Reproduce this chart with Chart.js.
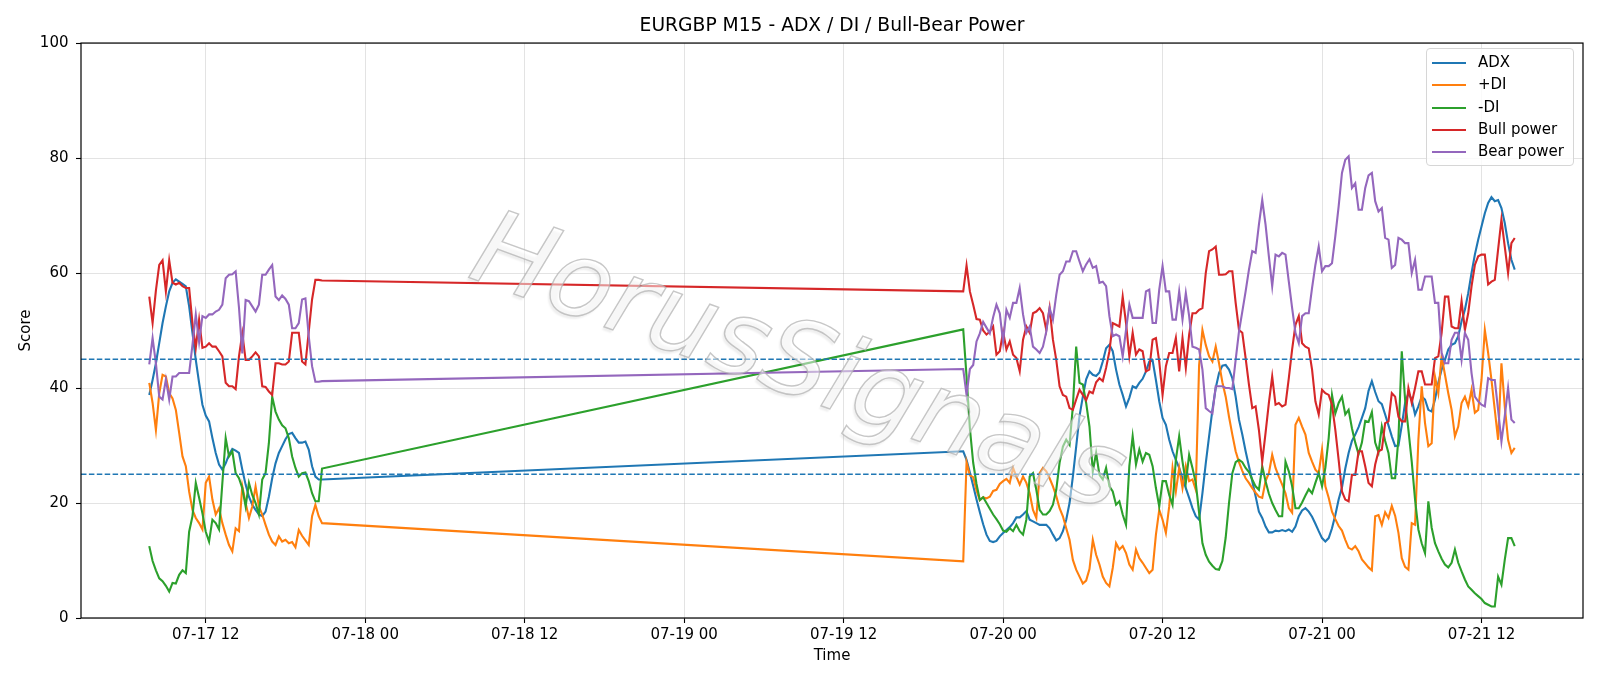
<!DOCTYPE html>
<html>
<head>
<meta charset="utf-8">
<title>EURGBP M15 - ADX / DI / Bull-Bear Power</title>
<script src="https://cdn.jsdelivr.net/npm/chart.js@4.4.0/dist/chart.umd.min.js"></script>
<style>
  html, body { margin: 0; padding: 0; background: #fff; }
  #wrap { position: relative; width: 1600px; height: 686px; }
  #legend {
    position: absolute; left: 1426px; top: 48px; width: 146px; height: 116px;
    border: 1px solid #d6d6d6; border-radius: 4px; background: rgba(255,255,255,0.8);
    font-family: 'DejaVu Sans', sans-serif; font-size: 15px; color: #000;
  }
  #legend .row { position: absolute; left: 0; width: 100%; height: 20px; }
  #legend .swatch { position: absolute; left: 5px; top: 9px; width: 34px; height: 2px; }
  #legend .lbl { position: absolute; left: 51px; top: 0px; line-height: 19px; white-space: nowrap; }
</style>
</head>
<body>
<div id="wrap">
  <canvas id="myChart" width="1600" height="686"></canvas>
  <div id="legend"></div>
</div>
<script>
// hours after 07-17 00:00, M15 bars
const session1Start = 7.75;   // 07-17 07:45
const session2Start = 69;     // 07-19 21:00

// friday session (07-17)
const adx1 = [38.8, 41.4, 44.3, 47.8, 51.3, 54.2, 56.8, 58.3, 58.9, 58.5,
  58.1, 57.7, 54.2, 49.6, 44.9, 40.9, 37.1, 35.2, 34.2, 31.3,
  28.7, 26.7, 25.8, 26.9, 28.4, 29.4, 29.1, 28.7, 25.8, 23.2,
  21.1, 19.7, 18.8, 18.0, 17.7, 18.5, 21.1, 24.3, 26.9, 28.7,
  29.9, 31.1, 32.0, 32.2, 31.3, 30.5, 30.5, 30.7, 29.3, 26.4,
  24.6, 24.1, 24.1];
const plusDi1 = [40.9, 37.4, 32.7, 39.1, 42.3, 42.0, 39.1, 38.2, 36.2, 32.2,
  28.1, 26.4, 22.0, 18.8, 17.4, 16.5, 15.4, 23.5, 24.6, 20.6,
  18.0, 19.1, 16.5, 14.5, 12.7, 11.6, 15.6, 15.1, 22.9, 20.0,
  17.4, 19.4, 22.9, 19.4, 18.0, 16.2, 14.5, 13.3, 12.7, 14.2,
  13.3, 13.6, 13.0, 13.2, 12.3, 15.3, 14.3, 13.5, 12.7, 17.7,
  19.7, 17.7, 16.5];
const minusDi1 = [12.5, 9.9, 8.3, 6.9, 6.4, 5.6, 4.6, 6.1, 6.0, 7.5,
  8.3, 7.8, 15.0, 17.7, 23.5, 20.9, 18.2, 15.0, 13.3, 17.1,
  16.5, 15.4, 23.5, 31.3, 28.1, 29.0, 25.2, 24.3, 22.6, 19.4,
  23.5, 21.4, 20.0, 18.0, 24.1, 25.2, 30.4, 38.5, 35.9, 34.5,
  33.5, 33.0, 31.3, 28.1, 26.1, 24.6, 25.2, 25.3, 23.8, 21.7,
  20.3, 20.3, 26.0];
const bull1 = [55.9, 51.3, 57.0, 61.4, 62.2, 56.8, 62.2, 58.3, 58.0, 58.3,
  57.7, 57.4, 57.4, 51.3, 47.0, 51.9, 47.0, 47.2, 47.8, 47.2,
  47.2, 46.4, 45.5, 40.9, 40.3, 40.3, 39.8, 45.5, 49.5, 44.9,
  44.9, 45.5, 46.2, 45.5, 40.3, 40.2, 39.4, 38.8, 44.3, 44.3,
  44.1, 44.1, 44.6, 49.6, 49.6, 49.6, 44.6, 44.1, 49.8, 55.4,
  58.8, 58.8, 58.7];
const bear1 = [44.1, 48.7, 44.3, 38.5, 38.0, 41.5, 38.0, 42.0, 42.0, 42.6,
  42.6, 42.6, 42.6, 47.5, 52.8, 48.0, 52.5, 52.2, 52.8, 52.8,
  53.3, 53.6, 54.5, 59.1, 59.7, 59.8, 60.3, 54.0, 46.0, 55.3,
  55.1, 54.2, 53.3, 54.5, 59.7, 59.7, 60.6, 61.4, 55.9, 55.3,
  56.1, 55.5, 54.5, 50.4, 50.4, 51.3, 55.4, 55.6, 49.0, 43.8,
  41.1, 41.1, 41.2];

// sunday open to tuesday (07-19 .. 07-21)
const adx2 = [29.0, 27.5, 25.3, 23.0, 20.6, 18.4, 16.3, 14.5, 13.4, 13.2,
  13.4, 14.2, 14.8, 15.3, 15.8, 16.5, 17.5, 17.5, 18.0, 18.6,
  17.1, 16.8, 16.5, 16.2, 16.2, 16.2, 15.6, 14.5, 13.5, 13.9,
  15.1, 17.1, 20.0, 24.6, 29.8, 35.1, 38.5, 41.5, 42.9, 42.3,
  42.1, 42.7, 44.6, 46.9, 47.5, 46.4, 43.2, 40.6, 38.8, 36.8,
  38.3, 40.3, 40.0, 40.9, 41.6, 42.9, 44.6, 44.8, 41.4, 37.7,
  34.8, 33.6, 31.0, 29.0, 27.5, 26.1, 24.3, 22.6, 20.9, 19.1,
  17.7, 17.1, 21.7, 26.9, 31.6, 36.2, 40.0, 42.6, 43.9, 44.0,
  43.2, 41.7, 38.5, 34.5, 31.9, 29.0, 26.4, 23.8, 21.2, 18.5,
  17.4, 15.9, 14.9, 14.9, 15.2, 15.1, 15.3, 15.1, 15.4, 15.0,
  15.9, 17.7, 18.7, 19.1, 18.5, 17.6, 16.4, 15.1, 13.9, 13.3,
  13.9, 15.6, 17.9, 20.6, 22.7, 26.0, 28.7, 30.8, 31.9, 33.2,
  34.8, 36.5, 39.5, 41.2, 39.3, 37.7, 37.2, 35.4, 33.5, 31.6,
  29.9, 30.0, 33.5, 37.4, 39.1, 38.0, 35.4, 36.8, 38.5, 38.0,
  36.2, 35.9, 38.0, 40.9, 43.2, 44.9, 46.7, 47.5, 47.8, 49.0,
  51.6, 53.6, 56.5, 60.0, 63.2, 65.8, 68.1, 70.4, 72.2, 73.2,
  72.5, 72.7, 71.3, 68.7, 65.2, 62.3, 60.6];
const plusDi2 = [9.85, 27.1, 24.8, 24.5, 22.2, 20.5, 21.0, 20.8, 21.1, 22.1,
  22.3, 23.3, 23.8, 24.2, 23.5, 26.1, 24.6, 23.2, 24.6, 23.5,
  21.7, 18.8, 17.4, 25.2, 26.1, 25.5, 24.3, 22.9, 21.2, 19.1,
  17.7, 15.6, 13.6, 10.1, 8.4, 7.2, 6.0, 6.5, 8.5, 13.6,
  11.0, 9.3, 7.2, 6.1, 5.5, 8.7, 13.0, 11.9, 12.5, 11.3,
  9.3, 8.4, 11.9, 10.4, 9.6, 8.7, 7.8, 8.4, 14.5, 18.8,
  17.1, 14.8, 19.4, 26.1, 22.0, 26.1, 22.6, 26.4, 23.8, 24.1,
  22.3, 44.0, 50.1, 47.5, 45.5, 44.6, 47.2, 44.3, 41.0, 38.5,
  35.0, 31.9, 29.0, 27.1, 25.6, 24.3, 23.5, 22.6, 21.8, 21.1,
  20.9, 23.8, 25.2, 28.4, 26.1, 24.6, 23.2, 21.7, 19.1, 18.3,
  33.6, 34.8, 33.3, 31.9, 28.7, 27.2, 25.8, 25.2, 29.3, 22.9,
  20.9, 18.5, 17.2, 16.0, 15.2, 13.6, 12.2, 11.9, 12.5, 11.6,
  10.2, 9.5, 8.8, 8.3, 17.7, 17.9, 16.2, 18.4, 17.4, 19.5,
  17.8, 14.8, 10.4, 8.9, 8.4, 16.5, 16.2, 31.0, 40.3, 33.9,
  29.9, 30.4, 42.0, 39.1, 45.5, 42.3, 39.1, 36.2, 31.6, 33.3,
  37.4, 38.5, 36.8, 39.7, 35.7, 36.2, 41.4, 50.1, 46.1, 41.4,
  36.2, 31.0, 44.3, 36.8, 31.0, 28.7, 29.6];
const minusDi2 = [50.2, 42.0, 33.0, 27.0, 23.3, 20.5, 21.0, 20.0, 19.0, 18.0,
  17.2, 16.3, 15.2, 15.0, 15.6, 15.1, 16.2, 15.1, 14.5, 17.1,
  24.6, 25.2, 22.3, 18.8, 18.0, 18.0, 18.6, 19.7, 22.3, 27.0,
  29.8, 31.0, 30.1, 36.8, 47.2, 40.9, 40.6, 37.4, 33.3, 25.5,
  28.7, 24.9, 24.1, 26.1, 22.9, 22.0, 19.7, 20.3, 18.0, 16.2,
  26.4, 31.6, 26.7, 29.3, 27.2, 28.7, 28.4, 26.4, 22.6, 19.4,
  23.8, 23.8, 21.4, 19.7, 27.5, 31.6, 27.2, 23.5, 28.4, 26.1,
  23.5, 18.3, 13.0, 11.0, 9.8, 9.1, 8.5, 8.4, 9.9, 14.0,
  20.0, 25.2, 27.1, 27.5, 27.1, 26.1, 25.4, 24.1, 22.9, 22.3,
  26.4, 23.8, 21.6, 20.0, 18.8, 17.7, 17.7, 27.2, 25.5, 22.9,
  19.1, 19.1, 20.1, 21.3, 22.4, 21.7, 23.5, 25.2, 22.9, 26.1,
  31.3, 38.8, 35.6, 37.4, 38.5, 35.4, 36.2, 33.0, 30.5, 28.5,
  30.5, 34.3, 34.1, 35.8, 30.5, 28.8, 33.3, 30.8, 28.7, 24.3,
  24.3, 31.3, 46.4, 38.0, 32.7, 27.2, 20.6, 15.4, 13.0, 11.3,
  20.3, 15.7, 13.0, 11.6, 10.3, 9.3, 8.8, 9.6, 11.9, 9.6,
  8.1, 6.7, 5.5, 4.9, 4.3, 3.8, 3.3, 2.6, 2.3, 2.0,
  2.0, 7.2, 5.8, 10.1, 13.9, 13.9, 12.5];
const bull2 = [56.8, 61.3, 56.8, 54.5, 52.0, 51.9, 50.0, 49.3, 49.8, 50.7,
  45.8, 46.4, 49.8, 46.7, 48.1, 45.8, 45.2, 42.9, 48.4, 50.7,
  49.6, 53.0, 53.3, 53.9, 53.0, 50.1, 53.9, 48.4, 44.9, 40.3,
  38.8, 38.5, 36.5, 36.2, 38.0, 39.7, 38.8, 37.9, 39.4, 39.1,
  41.0, 41.7, 41.2, 43.5, 46.4, 51.3, 51.0, 50.7, 55.9, 51.3,
  45.5, 49.6, 45.8, 46.7, 46.4, 42.9, 43.2, 48.4, 48.7, 44.6,
  38.8, 43.8, 46.1, 46.1, 48.7, 42.9, 48.7, 43.5, 49.3, 53.0,
  53.0, 53.6, 53.9, 60.0, 63.8, 64.1, 64.6, 59.7, 59.7, 59.8,
  60.3, 60.3, 54.8, 50.1, 49.6, 45.2, 40.6, 36.5, 36.8, 32.7,
  27.2, 32.2, 37.4, 42.0, 37.1, 37.4, 36.8, 37.1, 41.7, 46.7,
  51.0, 52.5, 47.8, 47.2, 46.9, 43.2, 37.7, 35.4, 39.7, 39.1,
  38.8, 37.1, 32.7, 27.5, 22.0, 20.6, 20.3, 24.9, 24.9, 29.0,
  29.0, 26.4, 23.5, 22.9, 26.7, 29.0, 29.3, 33.9, 34.2, 39.1,
  38.5, 35.0, 34.2, 34.2, 40.0, 37.4, 40.0, 42.9, 42.9, 40.6,
  40.6, 40.6, 45.2, 45.5, 49.6, 55.9, 55.9, 50.7, 50.4, 50.4,
  55.1, 50.1, 53.0, 57.7, 61.4, 62.9, 63.2, 63.2, 58.0, 58.5,
  58.8, 64.1, 69.3, 64.6, 60.0, 65.2, 66.1];
const bear2 = [43.3, 38.8, 43.3, 44.0, 48.1, 49.5, 51.5, 50.5, 49.5, 52.3,
  54.5, 53.0, 48.0, 53.6, 52.2, 54.8, 54.8, 57.4, 52.8, 49.6,
  50.7, 47.2, 46.7, 46.1, 47.2, 49.8, 53.9, 51.9, 56.2, 59.7,
  60.3, 62.0, 62.0, 63.8, 63.8, 62.0, 60.3, 61.5, 62.4, 60.9,
  61.2, 58.3, 58.5, 57.7, 52.5, 49.0, 49.3, 49.0, 45.5, 50.1,
  54.5, 52.2, 52.2, 52.2, 52.2, 56.8, 57.1, 51.3, 51.3, 57.1,
  61.2, 56.8, 56.8, 51.9, 51.9, 56.8, 51.9, 56.5, 52.5, 47.2,
  47.0, 46.7, 43.2, 36.5, 36.0, 35.6, 40.3, 40.3, 40.3, 40.0,
  40.0, 39.8, 44.9, 49.8, 53.3, 56.8, 60.6, 63.8, 63.5, 68.4,
  72.7, 68.4, 62.9, 57.7, 63.2, 62.9, 63.5, 63.2, 58.5, 53.9,
  49.6, 47.8, 52.5, 53.0, 53.0, 57.4, 61.4, 64.6, 60.3, 61.2,
  61.2, 61.7, 66.4, 71.6, 77.4, 79.7, 80.3, 74.8, 75.6, 71.0,
  71.0, 74.8, 77.0, 77.4, 72.5, 70.7, 71.3, 66.1, 65.8, 60.9,
  61.4, 66.1, 65.8, 65.2, 65.2, 60.0, 62.3, 57.1, 57.1, 59.4,
  59.4, 59.4, 54.8, 54.8, 46.1, 44.3, 44.3, 48.4, 49.6, 49.6,
  44.9, 49.6, 48.4, 42.6, 38.5, 37.7, 37.1, 36.8, 41.7, 41.4,
  41.4, 36.2, 30.7, 35.1, 40.0, 34.5, 33.9];

const levels = [45, 25];
const xTickHours = [12, 24, 36, 48, 60, 72, 84, 96, 108];
const xTickLabels = ['07-17 12', '07-18 00', '07-18 12', '07-19 00', '07-19 12',
  '07-20 00', '07-20 12', '07-21 00', '07-21 12'];
const xMin = 2.6125, xMax = 115.6375;

const FONT = "'DejaVu Sans', sans-serif";

function barTimes(start, n) {
  const out = [];
  for (let i = 0; i < n; i++) out.push(start + i * 0.25);
  return out;
}
const xTime = barTimes(session1Start, adx1.length).concat(barTimes(session2Start, adx2.length));

function toPoints(a, b) {
  return a.concat(b).map((v, i) => ({ x: xTime[i], y: v }));
}

const series = [
  { label: 'ADX', color: '#1f77b4', data: toPoints(adx1, adx2) },
  { label: '+DI', color: '#ff7f0e', data: toPoints(plusDi1, plusDi2) },
  { label: '-DI', color: '#2ca02c', data: toPoints(minusDi1, minusDi2) },
  { label: 'Bull power', color: '#d62728', data: toPoints(bull1, bull2) },
  { label: 'Bear power', color: '#9467bd', data: toPoints(bear1, bear2) }
];

const datasets = series.map((s, i) => ({
  label: s.label,
  data: s.data,
  borderColor: s.color,
  backgroundColor: s.color,
  borderWidth: 2.1,
  pointRadius: 0,
  fill: false,
  tension: 0,
  order: 10 - i
}));
levels.forEach(v => {
  datasets.push({
    label: 'level ' + v,
    data: [{ x: xMin, y: v }, { x: xMax, y: v }],
    borderColor: '#1f77b4',
    borderWidth: 1.5,
    borderDash: [5.5, 2.4],
    pointRadius: 0,
    fill: false,
    order: 0
  });
});

const framePlugin = {
  id: 'frame',
  afterDraw(chart) {
    const { ctx, chartArea: a } = chart;
    ctx.save();
    ctx.strokeStyle = '#000';
    ctx.lineWidth = 1.2;
    ctx.strokeRect(a.left, a.top, a.right - a.left, a.bottom - a.top);
    ctx.restore();
  }
};

const watermarkPlugin = {
  id: 'watermark',
  afterDatasetsDraw(chart) {
    const ctx = chart.ctx;
    ctx.save();
    ctx.translate(797, 368);
    ctx.rotate(20 * Math.PI / 180);
    ctx.font = 'italic 105px ' + FONT;
    ctx.textAlign = 'center';
    ctx.textBaseline = 'middle';
    ctx.shadowColor = 'rgba(0,0,0,0.13)';
    ctx.shadowBlur = 2;
    ctx.shadowOffsetX = -2;
    ctx.shadowOffsetY = 3;
    ctx.fillStyle = 'rgba(255,255,255,0.5)';
    ctx.fillText('HorusSignals', 0, 0);
    ctx.shadowColor = 'transparent';
    ctx.strokeStyle = 'rgba(175,175,175,0.7)';
    ctx.lineWidth = 1.4;
    ctx.strokeText('HorusSignals', 0, 0);
    ctx.restore();
  }
};

const gridColor = 'rgba(176,176,176,0.35)';

new Chart(document.getElementById('myChart'), {
  type: 'line',
  data: { datasets: datasets },
  options: {
    responsive: false,
    animation: false,
    devicePixelRatio: 1,
    events: [],
    layout: { padding: { left: 0, right: 17, top: 0, bottom: 0 } },
    plugins: {
      legend: { display: false },
      tooltip: { enabled: false },
      title: {
        display: true,
        text: 'EURGBP M15 - ADX / DI / Bull-Bear Power',
        color: '#000',
        fullSize: false,
        font: { family: FONT, size: 18.7, weight: 'normal' },
        padding: { top: 15, bottom: 5.6 }
      }
    },
    scales: {
      x: {
        type: 'linear',
        min: xMin,
        max: xMax,
        afterBuildTicks: (s) => { s.ticks = xTickHours.map(v => ({ value: v })); },
        afterFit: (s) => { s.height = 68; },
        ticks: {
          color: '#000',
          font: { family: FONT, size: 15 },
          padding: 3.5,
          maxRotation: 0,
          autoSkip: false,
          callback: (v, i) => xTickLabels[i]
        },
        grid: { color: gridColor, lineWidth: 1, tickLength: 5, tickColor: '#000', tickWidth: 1.1 },
        border: { display: false },
        title: {
          display: true, text: 'Time', color: '#000',
          font: { family: FONT, size: 15 },
          padding: { top: 0, bottom: 20.5 }
        }
      },
      y: {
        min: 0,
        max: 100,
        afterFit: (s) => { s.width = 81; },
        ticks: {
          stepSize: 20,
          color: '#000',
          font: { family: FONT, size: 15 },
          padding: 7.5
        },
        grid: { color: gridColor, lineWidth: 1, tickLength: 5, tickColor: '#000', tickWidth: 1.1 },
        border: { display: false },
        title: {
          display: true, text: 'Score', color: '#000',
          font: { family: FONT, size: 15 },
          padding: { top: 17.5, bottom: 0 }
        }
      }
    }
  },
  plugins: [framePlugin, watermarkPlugin]
});

// legend box inside the axes, top right
const legendBox = document.getElementById('legend');
series.forEach((s, i) => {
  const row = document.createElement('div');
  row.className = 'row';
  row.style.top = (4 + i * 22.25) + 'px';
  const sw = document.createElement('div');
  sw.className = 'swatch';
  sw.style.background = s.color;
  const lbl = document.createElement('div');
  lbl.className = 'lbl';
  lbl.textContent = s.label;
  row.appendChild(sw);
  row.appendChild(lbl);
  legendBox.appendChild(row);
});
</script>
</body>
</html>
